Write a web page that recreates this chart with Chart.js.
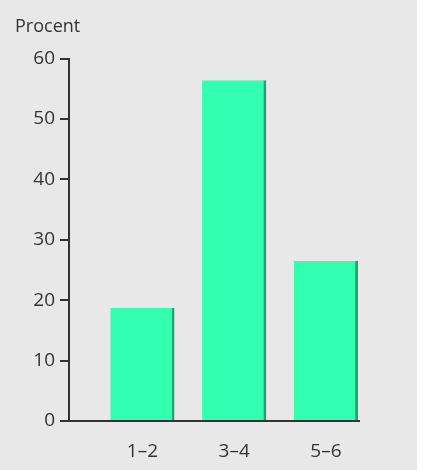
<!DOCTYPE html>
<html>
<head>
<meta charset="utf-8">
<script src="https://cdn.jsdelivr.net/npm/chart.js@4.4.1/dist/chart.umd.min.js"></script>
<style>
    html, body { margin: 0; padding: 0; background: #ffffff; }
    #wrap { position: absolute; left: 0; top: 0; width: 417px; height: 470px; background: #e8e8e8; }
</style>
</head>
<body>
<div id="wrap"><canvas id="procentChart" width="417" height="470"></canvas></div>
<script>
// data
const categories = ['1–2', '3–4', '5–6'];
const values = [18.7, 56.4, 26.5];
const yTicks = [0, 10, 20, 30, 40, 50, 60];
const yTitle = 'Procent';

const textColor = '#333333';
const axisColor = '#333333';

// bars sit at x = 1, 2, 3 on a linear axis so the axis line can run past them
const points = values.map((v, i) => ({ x: i + 1, y: v }));

function renderChart() {
    const ctx = document.getElementById('procentChart').getContext('2d');
    const myChart = new Chart(ctx, {
        type: 'bar',
        data: {
            datasets: [{
                data: points,
                backgroundColor: '#33ffb1',
                borderColor: '#25a274',
                borderWidth: { top: 0, right: 3, bottom: 0, left: 0 },
                borderSkipped: false,
                barPercentage: 0.7,
                categoryPercentage: 1
            }]
        },
        options: {
            responsive: false,
            animation: false,
            layout: {
                padding: { left: 15, right: 58, top: 0, bottom: 0 }
            },
            plugins: {
                legend: { display: false },
                tooltip: { enabled: false },
                title: {
                    display: true,
                    text: yTitle,
                    align: 'start',
                    color: textColor,
                    font: { family: 'Open Sans', size: 18, weight: 'normal' },
                    padding: { top: 16, bottom: 21 }
                }
            },
            scales: {
                x: {
                    type: 'linear',
                    offset: false,
                    min: 0.2,
                    max: 3.36,
                    afterFit: function(scale) { scale.height = 49; },
                    grid: { display: false, offset: false, drawTicks: false },
                    border: { display: true, color: axisColor, width: 2 },
                    ticks: {
                        stepSize: 1,
                        includeBounds: false,
                        padding: 19,
                        color: textColor,
                        font: { family: 'Open Sans', size: 19 },
                        callback: function(value) {
                            return categories[value - 1] || '';
                        }
                    }
                },
                y: {
                    min: yTicks[0],
                    max: yTicks[yTicks.length - 1],
                    afterFit: function(scale) { scale.width = 54; },
                    grid: {
                        drawOnChartArea: false,
                        drawTicks: true,
                        tickLength: 9,
                        color: axisColor,
                        lineWidth: 2
                    },
                    border: { display: true, color: axisColor, width: 2 },
                    ticks: {
                        stepSize: 10,
                        padding: 5,
                        color: textColor,
                        font: { family: 'Open Sans', size: 19 }
                    }
                }
            }
        }
    });
    return myChart;
}

document.addEventListener('DOMContentLoaded', function() {
    renderChart();
});
</script>
</body>
</html>
